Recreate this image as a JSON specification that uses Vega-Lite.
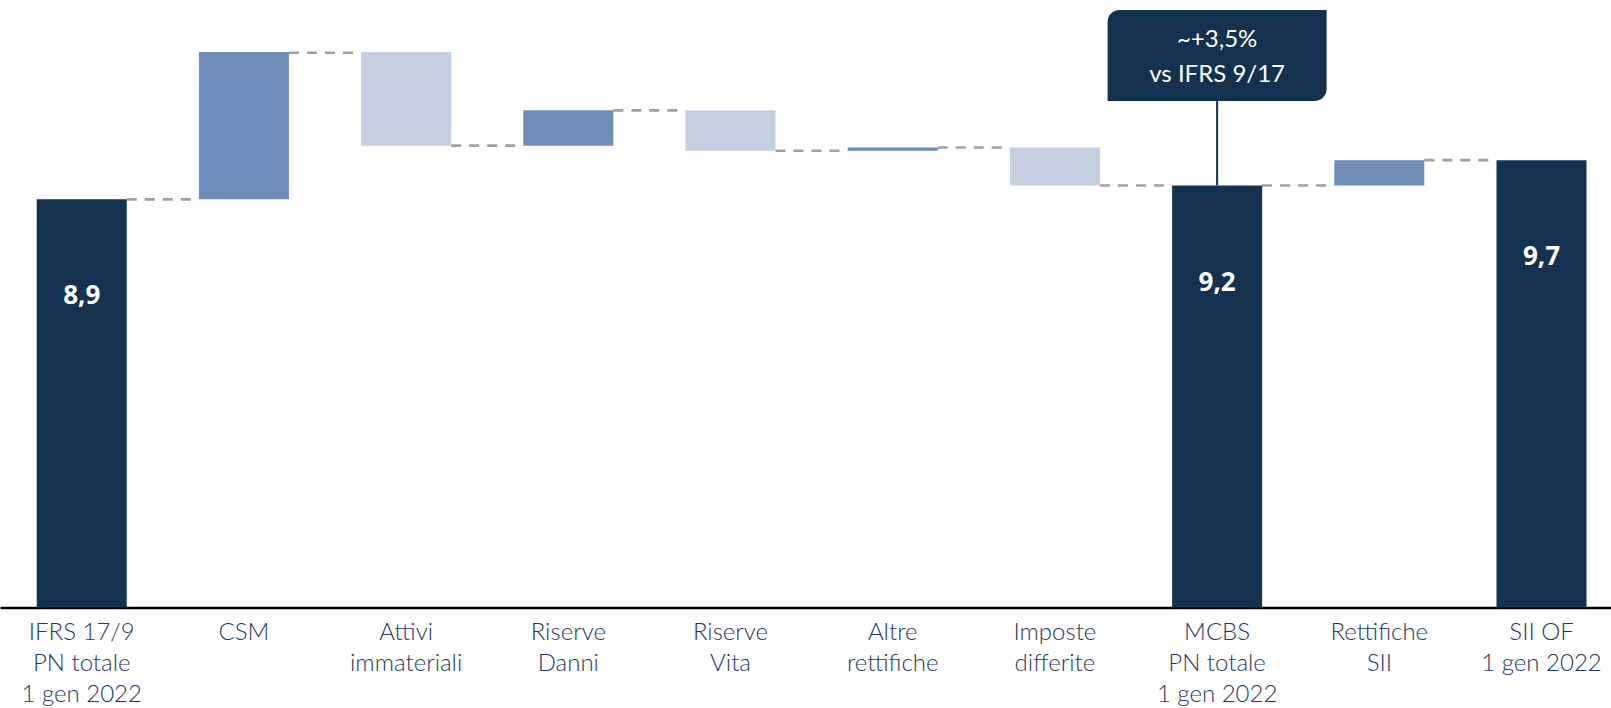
{
  "$schema": "https://vega.github.io/schema/vega-lite/v6.json",
  "width": 1611,
  "height": 607.5,
  "autosize": {"type": "none"},
  "padding": {"left": 0, "top": 0, "right": 0, "bottom": 100.5},
  "background": "white",
  "config": {"view": {"stroke": null}},
  "datasets": {
    "bars": [
      {"cat": "IFRS 17/9|PN totale|1 gen 2022", "start": 0, "end": 8.874, "kind": "total", "label": "8,9"},
      {"cat": "CSM", "start": 8.874, "end": 12.076, "kind": "up", "label": ""},
      {"cat": "Attivi|immateriali", "start": 12.076, "end": 10.039, "kind": "down", "label": ""},
      {"cat": "Riserve|Danni", "start": 10.039, "end": 10.809, "kind": "up", "label": ""},
      {"cat": "Riserve|Vita", "start": 10.809, "end": 9.93, "kind": "down", "label": ""},
      {"cat": "Altre|rettifiche", "start": 9.93, "end": 10.0, "kind": "up", "label": ""},
      {"cat": "Imposte|differite", "start": 10.0, "end": 9.174, "kind": "down", "label": ""},
      {"cat": "MCBS|PN totale|1 gen 2022", "start": 0, "end": 9.174, "kind": "total", "label": "9,2"},
      {"cat": "Rettifiche|SII", "start": 9.174, "end": 9.724, "kind": "up", "label": ""},
      {"cat": "SII OF|1 gen 2022", "start": 0, "end": 9.724, "kind": "total", "label": "9,7"}
    ],
    "links": [
      {"from": "IFRS 17/9|PN totale|1 gen 2022", "to": "CSM", "level": 8.874},
      {"from": "CSM", "to": "Attivi|immateriali", "level": 12.06},
      {"from": "Attivi|immateriali", "to": "Riserve|Danni", "level": 10.039},
      {"from": "Riserve|Danni", "to": "Riserve|Vita", "level": 10.809},
      {"from": "Riserve|Vita", "to": "Altre|rettifiche", "level": 9.93},
      {"from": "Altre|rettifiche", "to": "Imposte|differite", "level": 10.0},
      {"from": "Imposte|differite", "to": "MCBS|PN totale|1 gen 2022", "level": 9.174},
      {"from": "MCBS|PN totale|1 gen 2022", "to": "Rettifiche|SII", "level": 9.174},
      {"from": "Rettifiche|SII", "to": "SII OF|1 gen 2022", "level": 9.724}
    ],
    "note": [
      {"cat": "MCBS|PN totale|1 gen 2022", "top": 12.99, "bottom": 11.01, "mid": 12.0, "barTop": 9.174, "note": ["~+3,5%", "vs IFRS 9/17"]}
    ]
  },
  "layer": [
    {
      "data": {"name": "links"},
      "mark": {"type": "rule", "color": "#A0A0A0", "strokeWidth": 2.7, "strokeDash": [10, 8]},
      "encoding": {
        "x": {"field": "from", "type": "nominal", "bandPosition": 1,
              "scale": {"type": "band", "domain": ["IFRS 17/9|PN totale|1 gen 2022", "CSM", "Attivi|immateriali", "Riserve|Danni", "Riserve|Vita", "Altre|rettifiche", "Imposte|differite", "MCBS|PN totale|1 gen 2022", "Rettifiche|SII", "SII OF|1 gen 2022"], "paddingInner": 0.445, "paddingOuter": 0.1887, "align": 0.6},
              "axis": {"title": null, "ticks": false, "domainColor": "#000000", "domainWidth": 2.5, "labelExpr": "split(datum.label, '|')", "labelFont": "Lato", "labelFontWeight": 300, "labelFontSize": 24, "labelColor": "#1F3A5C", "labelLineHeight": 31, "labelPadding": 13, "labelAngle": 0, "labelOverlap": false, "labelBound": false, "labelLimit": 0}},
        "x2": {"field": "to", "bandPosition": 0},
        "y": {"field": "level", "type": "quantitative", "scale": {"domain": [0, 13.207], "nice": false, "zero": false}, "axis": null}
      }
    },
    {
      "data": {"name": "bars"},
      "mark": {"type": "bar"},
      "encoding": {
        "x": {"field": "cat", "type": "nominal",
              "scale": {"type": "band", "domain": ["IFRS 17/9|PN totale|1 gen 2022", "CSM", "Attivi|immateriali", "Riserve|Danni", "Riserve|Vita", "Altre|rettifiche", "Imposte|differite", "MCBS|PN totale|1 gen 2022", "Rettifiche|SII", "SII OF|1 gen 2022"], "paddingInner": 0.445, "paddingOuter": 0.1887, "align": 0.6}},
        "y": {"field": "start", "type": "quantitative"},
        "y2": {"field": "end"},
        "color": {"field": "kind", "type": "nominal", "scale": {"domain": ["total", "up", "down"], "range": ["#14324F", "#6F8DB9", "#C4CFE1"]}, "legend": null}
      }
    },
    {
      "data": {"name": "bars"},
      "transform": [{"filter": "datum.kind === 'total'"}],
      "mark": {"type": "text", "color": "white", "font": "Open Sans", "fontWeight": "bold", "fontSize": 26, "baseline": "middle", "align": "center", "dy": 97},
      "encoding": {
        "x": {"field": "cat", "type": "nominal"},
        "y": {"field": "end", "type": "quantitative"},
        "text": {"field": "label"}
      }
    },
    {
      "data": {"name": "note"},
      "mark": {"type": "rule", "color": "#14324F", "strokeWidth": 2},
      "encoding": {
        "x": {"field": "cat", "type": "nominal"},
        "y": {"field": "bottom", "type": "quantitative"},
        "y2": {"field": "barTop"}
      }
    },
    {
      "data": {"name": "note"},
      "mark": {"type": "bar", "width": 219, "color": "#14324F", "cornerRadiusTopLeft": 12, "cornerRadiusBottomRight": 12},
      "encoding": {
        "x": {"field": "cat", "type": "nominal"},
        "y": {"field": "top", "type": "quantitative"},
        "y2": {"field": "bottom"}
      }
    },
    {
      "data": {"name": "note"},
      "mark": {"type": "text", "color": "white", "font": "Lato", "fontWeight": "normal", "fontSize": 24, "lineHeight": 35, "baseline": "middle", "align": "center", "dy": -16},
      "encoding": {
        "x": {"field": "cat", "type": "nominal"},
        "y": {"field": "mid", "type": "quantitative"},
        "text": {"field": "note"}
      }
    }
  ]
}
